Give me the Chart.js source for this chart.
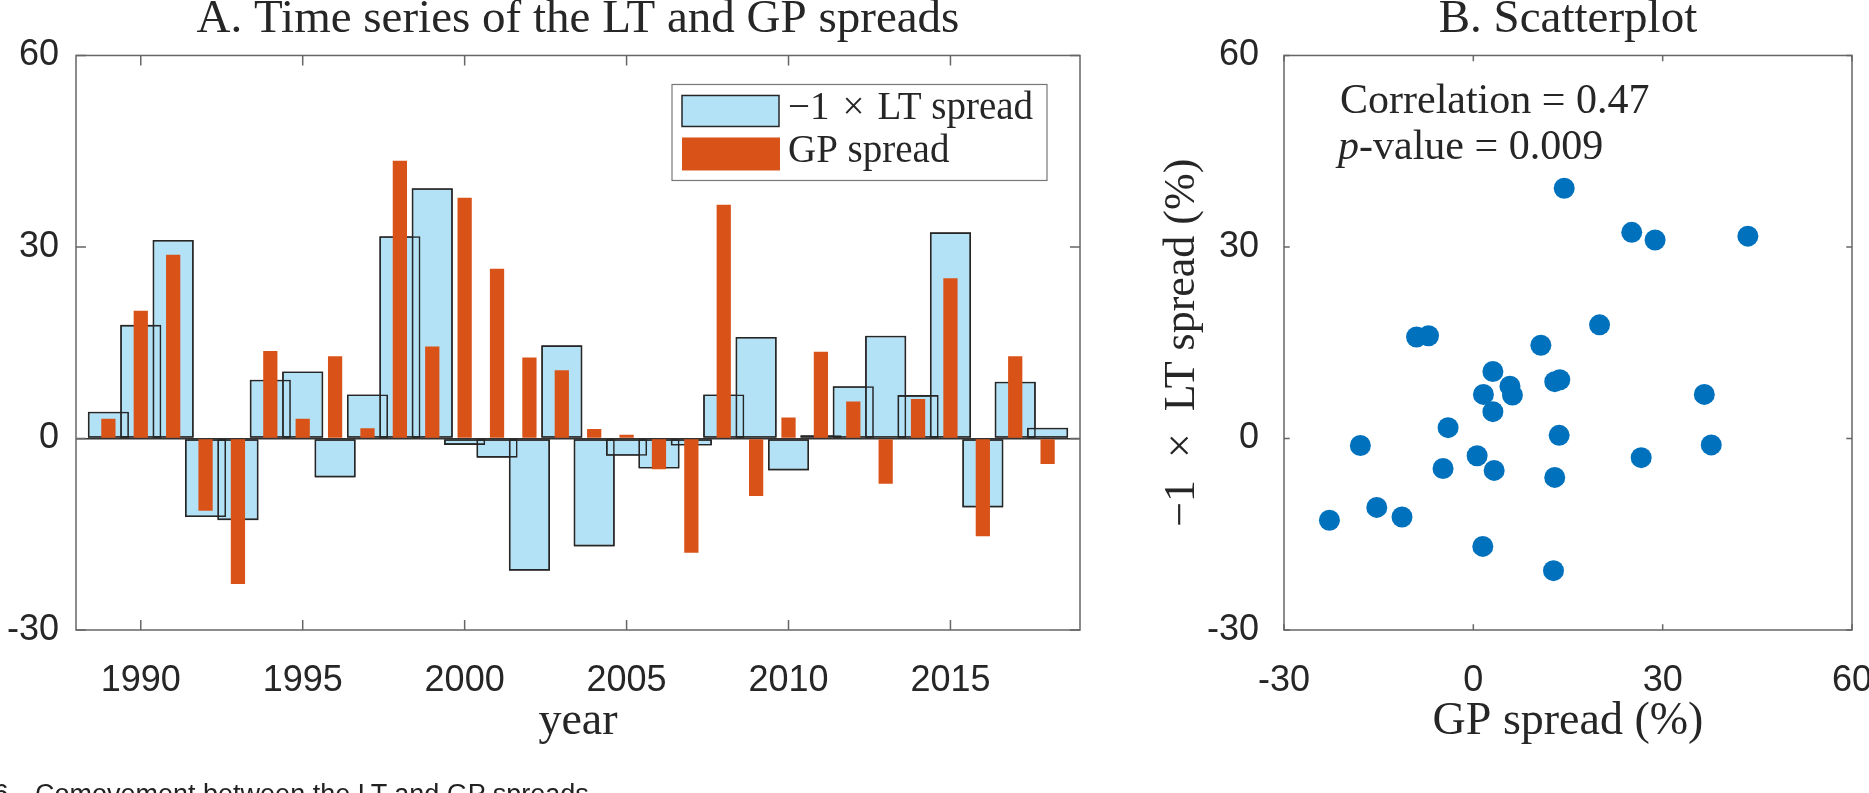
<!DOCTYPE html>
<html>
<head>
<meta charset="utf-8">
<script src="https://cdn.jsdelivr.net/npm/chart.js@4.4.1/dist/chart.umd.min.js"></script>
<style>
  html, body { margin: 0; padding: 0; background: #fff; overflow: hidden; }
  body { width: 1869px; height: 793px; position: relative; }
  .panel { position: absolute; top: 0; height: 793px; }
  #panelA { left: 0; width: 1110px; }
  #panelB { left: 1110px; width: 759px; }
  .caption { position: absolute; top: 781px; font: 27px 'Liberation Sans', Arial, sans-serif; line-height: 27px; color: #222; white-space: nowrap; }
</style>
</head>
<body>
<div class="panel" id="panelA"><canvas id="spreadCanvas"></canvas></div>
<div class="panel" id="panelB"><canvas id="scatterCanvas"></canvas></div>
<div class="caption" style="left:-59px">Fig. 6.</div>
<div class="caption" style="left:35px">Comovement between the LT and GP spreads.</div>
<script>
// Data (percent), one value per year
const years = [1989, 1990, 1991, 1992, 1993, 1994, 1995, 1996, 1997, 1998,
  1999, 2000, 2001, 2002, 2003, 2004, 2005, 2006, 2007, 2008,
  2009, 2010, 2011, 2012, 2013, 2014, 2015, 2016, 2017, 2018];
// -1 x LT spread
const ltSpread = [4.2, 17.8, 31.1, -12.3, -12.8, 9.2, 10.5, -6.1, 6.9, 31.7,
  39.2, -1.0, -3.0, -20.7, 14.6, -16.9, -2.7, -4.7, -1.1, 6.9,
  15.9, -5.0, 0.5, 8.2, 16.1, 6.8, 32.3, -10.8, 8.9, 1.7];
// GP spread
const gpSpread = [3.1, 20.0, 28.8, -11.3, -22.8, 13.7, 3.1, 12.9, 1.6, 43.5,
  14.4, 37.7, 26.6, 12.7, 10.7, 1.5, 0.6, -4.8, -17.9, 36.6,
  -9.0, 3.3, 13.6, 5.8, -7.1, 6.2, 25.1, -15.3, 12.9, -4.0];

const yearTicks = [1990, 1995, 2000, 2005, 2010, 2015];
const spreadTicks = [-30, 0, 30, 60];
const legendLabels = ['\u22121\u2004\u00d7\u2004LT spread', 'GP spread'];
const correlation = '0.47';
const pValue = '0.009';

const SERIF = "'Liberation Serif', 'Times New Roman', serif";
const SANS = "'Liberation Sans', Arial, sans-serif";
const INK = '#262626';

Chart.defaults.font.family = SANS;
Chart.defaults.color = INK;

// put the ticks exactly where the figure has them
const fixTicks = (values) => (scale) => {
  scale.ticks = values.map(v => ({ value: v }));
};

// box around the plot plus MATLAB style inward ticks on all 4 sides
const frameTicks = {
  id: 'frameTicks',
  afterDatasetsDraw(chart) {
    const { ctx, chartArea: a, scales: { x, y } } = chart;
    const len = 0.01 * Math.max(a.right - a.left, a.bottom - a.top);
    ctx.save();
    ctx.strokeStyle = '#666';
    ctx.lineWidth = 1.5;
    ctx.beginPath();
    x.ticks.forEach(t => {
      let px = x.getPixelForValue(t.value);
      ctx.moveTo(px, a.bottom);
      ctx.lineTo(px, a.bottom - len);
      ctx.moveTo(px, a.top);
      ctx.lineTo(px, a.top + len);
    });
    y.ticks.forEach(t => {
      let py = y.getPixelForValue(t.value);
      ctx.moveTo(a.left, py);
      ctx.lineTo(a.left + len, py);
      ctx.moveTo(a.right, py);
      ctx.lineTo(a.right - len, py);
    });
    ctx.stroke();
    ctx.strokeRect(a.left, a.top, a.right - a.left, a.bottom - a.top);
    ctx.restore();
  }
};

// legend box of panel A, drawn in the top right corner of the plot
const legendBox = {
  id: 'legendBox',
  afterDraw(chart) {
    const { ctx, chartArea: a } = chart;
    const lt = chart.data.datasets[2];
    const gp = chart.data.datasets[0];
    const left = a.right - 408;
    const top = a.top + 29;
    ctx.save();
    ctx.fillStyle = '#fff';
    ctx.fillRect(left, top, 375, 96);
    ctx.strokeStyle = '#777';
    ctx.lineWidth = 1.2;
    ctx.strokeRect(left, top, 375, 96);
    ctx.fillStyle = lt.backgroundColor;
    ctx.fillRect(left + 10, top + 11, 97, 31);
    ctx.strokeStyle = lt.borderColor;
    ctx.lineWidth = 1.5;
    ctx.strokeRect(left + 10, top + 11, 97, 31);
    ctx.fillStyle = gp.backgroundColor;
    ctx.fillRect(left + 10, top + 53, 98, 33);
    ctx.fillStyle = INK;
    ctx.font = `39px ${SERIF}`;
    ctx.textBaseline = 'alphabetic';
    ctx.fillText(lt.label, left + 116, top + 35);
    ctx.fillText(gp.label, left + 116, top + 78);
    ctx.restore();
  }
};

// correlation note of panel B
const statsNote = {
  id: 'statsNote',
  afterDraw(chart) {
    const { ctx, chartArea: a } = chart;
    ctx.save();
    ctx.fillStyle = INK;
    ctx.textBaseline = 'alphabetic';
    ctx.font = `42px ${SERIF}`;
    ctx.fillText(`Correlation = ${correlation}`, a.left + 56, a.top + 58);
    ctx.font = `italic 42px ${SERIF}`;
    ctx.fillText('p', a.left + 54, a.top + 104);
    let w = ctx.measureText('p').width;
    ctx.font = `42px ${SERIF}`;
    ctx.fillText(`-value = ${pValue}`, a.left + 54 + w, a.top + 104);
    ctx.restore();
  }
};

const titleFont = { family: SERIF, size: 47, weight: 'normal', lineHeight: 0.84 };
const labelFont = { family: SERIF, size: 46, weight: 'normal' };
const tickFont = { family: SANS, size: 36 };

var makeXScale = (min, max, ticks, text, fmt) => ({
  type: 'linear', min: min, max: max, offset: false,
  afterBuildTicks: fixTicks(ticks),
  afterFit: (s) => { s.height = 163; s.paddingLeft = 0; s.paddingRight = 0; },
  grid: { display: false },
  border: { display: false },
  ticks: { font: tickFont, color: INK, padding: 21, maxRotation: 0, autoSkip: false, callback: fmt },
  title: { display: true, text: text, font: labelFont, color: INK, padding: { top: 0, bottom: 43 } }
});

var makeYScale = (width) => ({
  type: 'linear', min: -30, max: 60,
  afterBuildTicks: fixTicks(spreadTicks),
  afterFit: (s) => { s.width = width; s.paddingTop = 0; s.paddingBottom = 0; },
  border: { display: false },
  grid: { display: false },
  ticks: { font: tickFont, color: INK, padding: 17 }
});

// 1. Panel A: bars over years
const ltPoints = years.map((yr, i) => ({ x: yr, y: ltSpread[i] }));
const gpPoints = years.map((yr, i) => ({ x: yr, y: gpSpread[i] }));

const yA = makeYScale(76);
yA.grid = {
  display: true, drawTicks: false, lineWidth: 1.5,
  color: (c) => (c.tick && c.tick.value === 0 ? '#333' : 'rgba(0,0,0,0)')
};

new Chart(document.getElementById('spreadCanvas'), {
  type: 'bar',
  data: {
    datasets: [
      { label: legendLabels[1], data: gpPoints, backgroundColor: '#d95319', borderWidth: 0,
        barPercentage: 0.44, categoryPercentage: 1, grouped: false, order: 0 },
      { label: 'edges', data: ltPoints, backgroundColor: 'rgba(0,0,0,0)', borderColor: '#262626', borderWidth: 1.6,
        borderSkipped: false, barPercentage: 1.27, categoryPercentage: 1, grouped: false, order: 1 },
      { label: legendLabels[0], data: ltPoints, backgroundColor: '#b3e2f7', borderColor: '#262626', borderWidth: 1.6,
        borderSkipped: false, barPercentage: 1.27, categoryPercentage: 1, grouped: false, order: 2 }
    ]
  },
  options: {
    responsive: true, maintainAspectRatio: false, devicePixelRatio: 1,
    animation: false, events: [],
    layout: { padding: { left: 0, right: 30, top: 0, bottom: 0 } },
    scales: {
      x: makeXScale(1988, 2019, yearTicks, 'year', (v) => String(v)),
      y: yA
    },
    plugins: {
      legend: { display: false },
      tooltip: { enabled: false },
      title: { display: true, text: 'A. Time series of the LT and GP spreads', font: titleFont, color: INK,
        padding: { top: 0, bottom: 16 }, fullSize: false }
    }
  },
  plugins: [frameTicks, legendBox]
});

// 2. Panel B: scatter of the same two series
const yB = makeYScale(174);
yB.title = { display: true, text: '\u22121\u2002\u00d7\u2002LT spread (%)', font: { family: SERIF, size: 44, weight: 'normal' },
  color: INK, padding: { top: 46, bottom: 0 } };

new Chart(document.getElementById('scatterCanvas'), {
  type: 'scatter',
  data: {
    datasets: [{
      label: 'GP vs LT',
      data: years.map((yr, i) => ({ x: gpSpread[i], y: ltSpread[i] })),
      pointRadius: 10.5, pointHoverRadius: 10.5,
      pointBackgroundColor: '#0072bd', pointBorderWidth: 0
    }]
  },
  options: {
    responsive: true, maintainAspectRatio: false, devicePixelRatio: 1,
    animation: false, events: [],
    layout: { padding: { left: 0, right: 17, top: 0, bottom: 0 } },
    scales: {
      x: makeXScale(-30, 60, spreadTicks, 'GP spread (%)', (v) => String(v)),
      y: yB
    },
    plugins: {
      legend: { display: false },
      tooltip: { enabled: false },
      title: { display: true, text: 'B. Scatterplot', font: titleFont, color: INK,
        padding: { top: 0, bottom: 16 }, fullSize: false }
    }
  },
  plugins: [frameTicks, statsNote]
});
</script>
</body>
</html>
